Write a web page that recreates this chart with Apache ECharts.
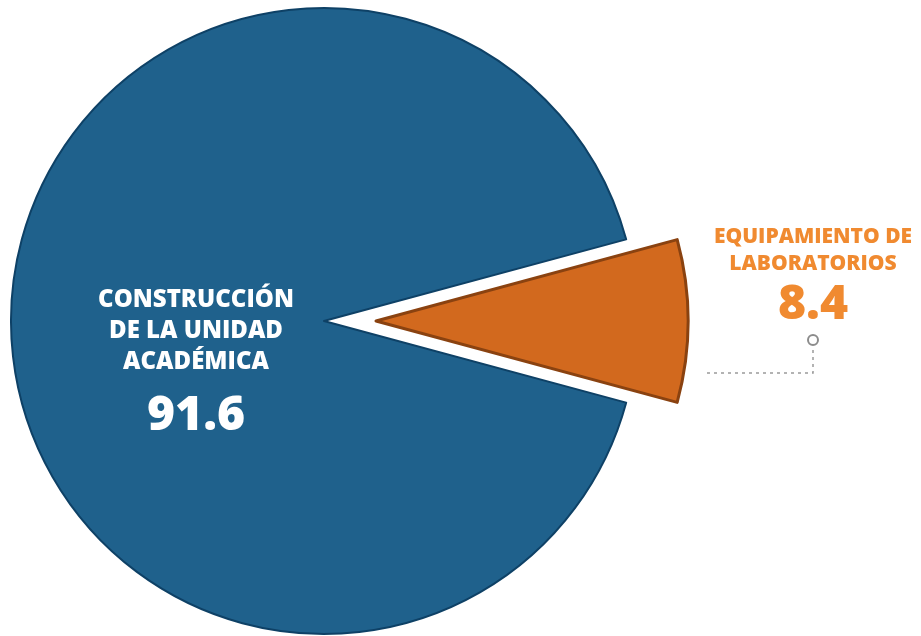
<!DOCTYPE html>
<html>
<head>
<meta charset="utf-8">
<script src="https://cdn.jsdelivr.net/npm/echarts@6/dist/echarts.min.js"></script>
<style>
  html, body { margin: 0; padding: 0; background: #fff; }
  #main { width: 921px; height: 636px; }
</style>
</head>
<body>
<div id="main"></div>
<script>
var categories = ["CONSTRUCCIÓN\nDE LA UNIDAD\nACADÉMICA", "EQUIPAMIENTO DE\nLABORATORIOS"];
var values = [91.6, 8.4];
var sliceColors = ["#1F618C", "#D2691E"];
var borderColors = ["#0E4166", "#8A4210"];
var labelColors = ["#FFFFFF", "#F08A30"];

var chartDom = document.getElementById("main");
var myChart = echarts.init(chartDom);
var option;

var explode = 52;
// orange slice centred on the right side
var startAngle = -(values[1] / 100 * 360) / 2;
var font = "'Open Sans'";

// one pie per slice so the small one can be pulled out
function sliceData(show) {
  return values.map(function (v, i) {
    var on = i === show;
    return {
      name: categories[i],
      value: v,
      itemStyle: on
        ? { color: sliceColors[i], borderColor: borderColors[i], borderWidth: i === 1 ? 3 : 2 }
        : { color: "rgba(0,0,0,0)", borderWidth: 0 },
      label: {
        show: on,
        overflow: "none",
        formatter: "{n|{b}}\n{v|{c}}",
        rich: {
          n: { color: labelColors[i], fontSize: i === 0 ? 24 : 21, fontWeight: 800, fontFamily: font, lineHeight: i === 0 ? 31 : 27 },
          v: { color: labelColors[i], fontSize: 48, fontWeight: 800, fontFamily: font, lineHeight: i === 0 ? 76 : 54 }
        }
      },
      labelLine: { show: on && i === 1 }
    };
  });
}

option = {
  animation: false,
  graphic: [
    {
      type: "circle",
      shape: { cx: 813, cy: 340, r: 5 },
      style: { fill: "#fff", stroke: "#8C8C8C", lineWidth: 2 }
    }
  ],
  series: [
    {
      type: "pie",
      silent: true,
      center: [324, 321],
      radius: 313,
      startAngle: startAngle,
      clockwise: true,
      label: { position: "inside" },
      labelLayout: function (params) {
        return { x: 196, y: 285, align: "center", verticalAlign: "top" };
      },
      data: sliceData(0)
    },
    {
      type: "pie",
      silent: true,
      center: [324 + explode, 321],
      radius: 312,
      startAngle: startAngle,
      clockwise: true,
      label: { position: "outside", overflow: "none" },
      labelLine: {
        lineStyle: { color: "#9A9A9A", width: 1.5, type: [3, 4] }
      },
      labelLayout: function (params) {
        return {
          x: 813, y: 224, align: "center", verticalAlign: "top",
          labelLinePoints: [[707, 373], [813, 373], [813, 346]]
        };
      },
      data: sliceData(1)
    }
  ]
};

option && myChart.setOption(option);
</script>
</body>
</html>
